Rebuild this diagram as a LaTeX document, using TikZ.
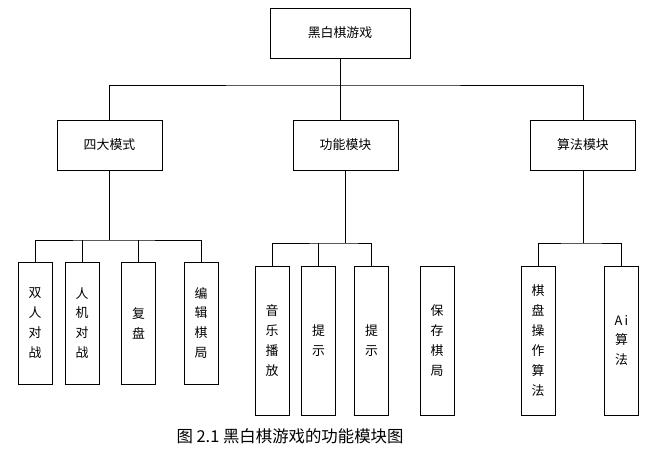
\documentclass[tikz,border=0pt]{standalone}
\usepackage{fontspec}
\setmainfont{Noto Sans CJK SC}
\usetikzlibrary{calc, positioning}
\tikzset{
    modbox/.style={draw=black, thick, minimum width=105*0.03cm, minimum height=50*0.03cm,
        inner sep=0pt, font=\fontsize{11}{13}\selectfont},
    leafbox/.style={draw=black, thick, minimum width=34*0.03cm, inner sep=0pt,
        align=center, font=\fontsize{11}{17}\selectfont},
    link/.style={draw=black, thick}
}
\begin{document}
\begin{tikzpicture}[x=0.03cm, y=-0.03cm]
\useasboundingbox (0,0) rectangle (647,451);

% Nodo raíz y módulos.
\node[modbox, minimum width=140*0.03cm] (root) at (340,33) {黑白棋游戏};
\node[modbox] (mode) at (109.5,145) {四大模式};
\node[modbox] (func) at (345.5,145) {功能模块};
\node[modbox] (algo) at (583,145) {算法模块};

% Hojas.
\node[leafbox, minimum height=122*0.03cm] (duo) at (35,323) {双\\人\\对\\战};
\node[leafbox, minimum height=122*0.03cm] (ai) at (82,323) {人\\机\\对\\战};
\node[leafbox, minimum height=122*0.03cm] (replay) at (138.5,323) {复\\盘};
\node[leafbox, minimum height=122*0.03cm] (edit) at (201,323) {编\\辑\\棋\\局};
\node[leafbox, minimum height=149*0.03cm] (music) at (272,340.5) {音\\乐\\播\\放};
\node[leafbox, minimum height=149*0.03cm] (hintA) at (318.5,340.5) {提\\示};
\node[leafbox, minimum height=149*0.03cm] (hintB) at (371.5,340.5) {提\\示};
\node[leafbox, minimum height=149*0.03cm] (save) at (437,340.5) {保\\存\\棋\\局};
\node[leafbox, minimum height=149*0.03cm] (board) at (538,340.5) {棋\\盘\\操\\作\\算\\法};
\node[leafbox, minimum height=149*0.03cm] (aialgo) at (621.5,340.5) {A\,i\\算\\法};

% Puntos de unión.
\coordinate (j0) at (root.south |- 0,85);
\coordinate (j1) at (mode.south |- 0,240);
\coordinate (j2) at (func.south |- 0,243);
\coordinate (j3) at (algo.south |- 0,243);

% Conectores del primer nivel.
\draw[link] (root.south) -- (j0);
\draw[link] (mode.north) |- (j0) -| (algo.north);
\draw[link] (j0) -- (j0 |- func.north);

% Conectores del segundo nivel.
\draw[link] (mode.south) -- (j1);
\draw[link] (duo.north) |- (j1) -| (edit.north);
\draw[link] (ai.north) -- (ai.north |- j1);
\draw[link] (replay.north) -- (replay.north |- j1);
\draw[link] (func.south) -- (j2);
\draw[link] (music.north) |- (j2) -| (hintB.north);
\draw[link] (hintA.north) -- (hintA.north |- j2);
\draw[link] (algo.south) -- (j3);
\draw[link] (board.north) |- (j3) -| (aialgo.north);

% Pie de figura.
\node[font=\fontsize{14}{16}\selectfont] (caption) at (290,436) {图 2.1 黑白棋游戏的功能模块图};

\end{tikzpicture}
\end{document}
